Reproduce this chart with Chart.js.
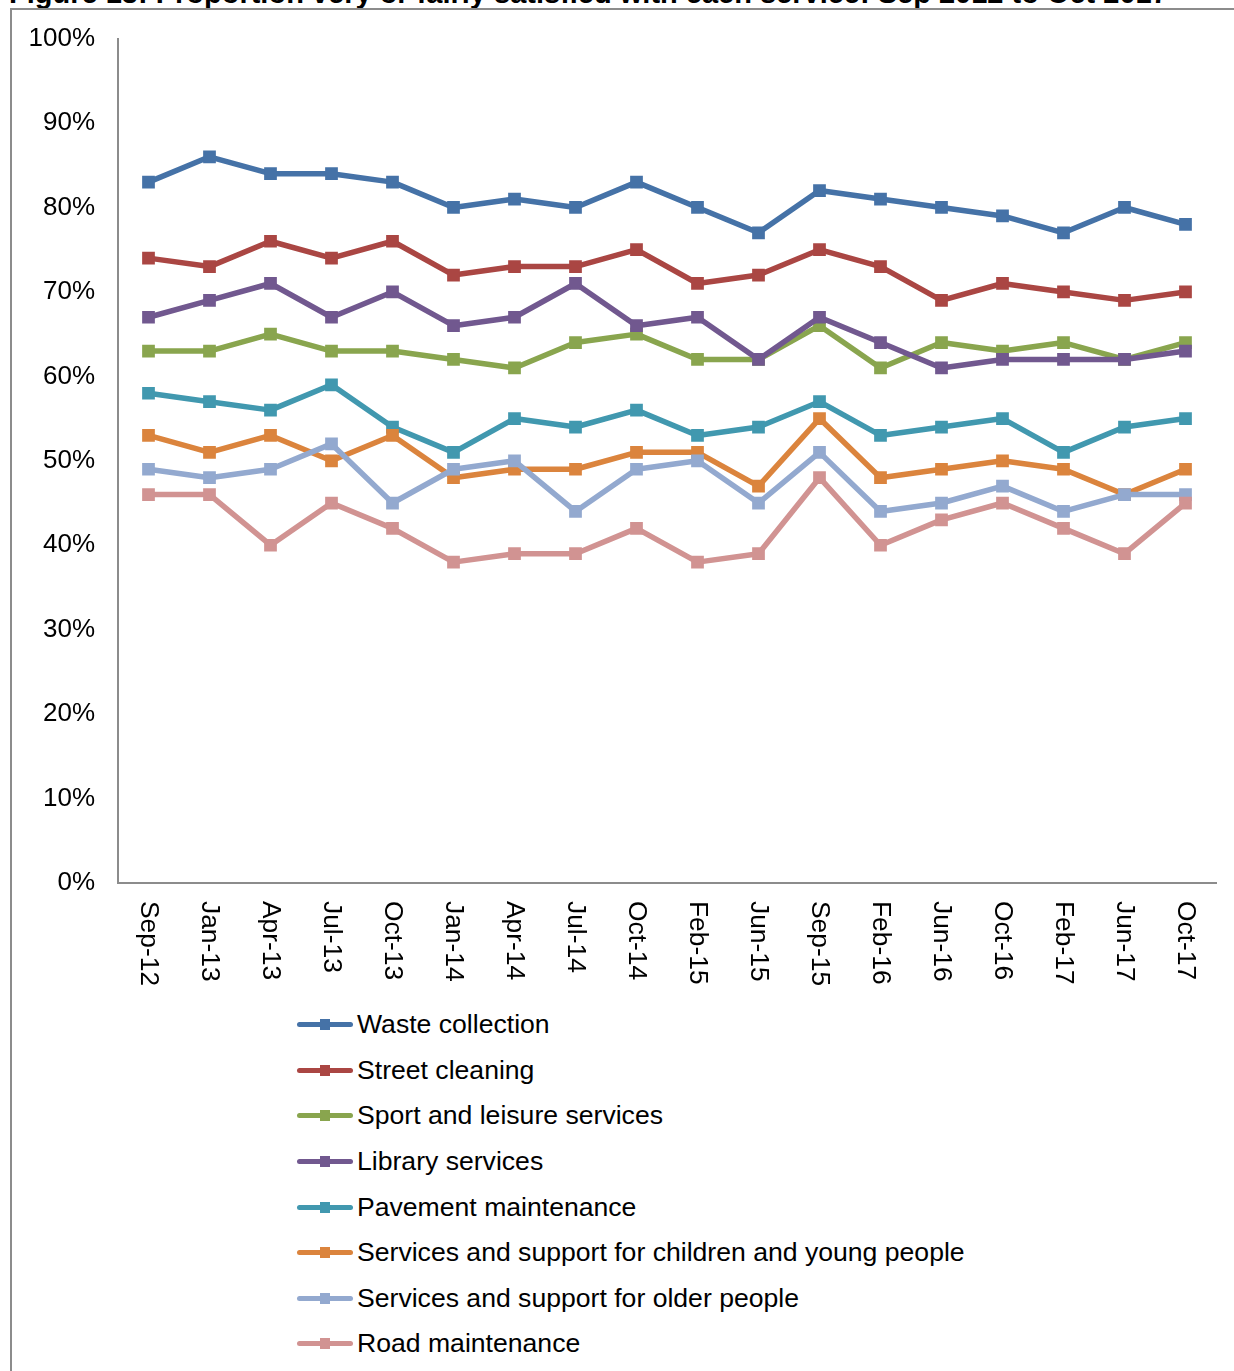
<!DOCTYPE html>
<html>
<head>
<meta charset="utf-8">
<script src="https://cdn.jsdelivr.net/npm/chart.js@4"></script>
<style>
    body { margin: 0; background: #fff; }
    #page { position: relative; width: 1234px; height: 1371px; overflow: hidden; font-family: "Liberation Sans", Arial, sans-serif; }
    #title { position: absolute; left: 9px; top: -21px; font-size: 29px; font-weight: bold; line-height: 29px; white-space: nowrap; color: #000; }
    #frame { position: absolute; left: 10px; top: 8px; width: 2000px; height: 2000px; border-left: 2px solid #8c8c8c; border-top: 2px solid #8c8c8c; }
    #myChart1 { position: absolute; left: 0; top: 0; }
    #legend { position: absolute; left: 297px; top: 1002px; }
    .item { display: flex; align-items: center; height: 45.6px; font-size: 26.6px; color: #000; }
    .mark { position: relative; width: 56px; height: 5px; border-radius: 3px; margin-right: 4px; }
    .mark span { position: absolute; left: 23px; top: -3px; width: 10px; height: 11px; }
</style>
</head>
<body>
<div id="page">
    <div id="title">Figure 13: Proportion very or fairly satisfied with each service: Sep 2012 to Oct 2017</div>
    <div id="frame"></div>
    <canvas id="myChart1" width="1234" height="1000"></canvas>
    <div id="legend"></div>
</div>
<script>
const months = ['Sep-12', 'Jan-13', 'Apr-13', 'Jul-13', 'Oct-13', 'Jan-14', 'Apr-14', 'Jul-14', 'Oct-14',
    'Feb-15', 'Jun-15', 'Sep-15', 'Feb-16', 'Jun-16', 'Oct-16', 'Feb-17', 'Jun-17', 'Oct-17'];

const wasteCollection = [83, 86, 84, 84, 83, 80, 81, 80, 83, 80, 77, 82, 81, 80, 79, 77, 80, 78];
const streetCleaning = [74, 73, 76, 74, 76, 72, 73, 73, 75, 71, 72, 75, 73, 69, 71, 70, 69, 70];
const sportLeisure = [63, 63, 65, 63, 63, 62, 61, 64, 65, 62, 62, 66, 61, 64, 63, 64, 62, 64];
const libraryServices = [67, 69, 71, 67, 70, 66, 67, 71, 66, 67, 62, 67, 64, 61, 62, 62, 62, 63];
const pavementMaintenance = [58, 57, 56, 59, 54, 51, 55, 54, 56, 53, 54, 57, 53, 54, 55, 51, 54, 55];
const childrenYoungPeople = [53, 51, 53, 50, 53, 48, 49, 49, 51, 51, 47, 55, 48, 49, 50, 49, 46, 49];
const olderPeople = [49, 48, 49, 52, 45, 49, 50, 44, 49, 50, 45, 51, 44, 45, 47, 44, 46, 46];
const roadMaintenance = [46, 46, 40, 45, 42, 38, 39, 39, 42, 38, 39, 48, 40, 43, 45, 42, 39, 45];

const seriesNames = ['Waste collection', 'Street cleaning', 'Sport and leisure services', 'Library services',
    'Pavement maintenance', 'Services and support for children and young people',
    'Services and support for older people', 'Road maintenance'];
const seriesValues = [wasteCollection, streetCleaning, sportLeisure, libraryServices,
    pavementMaintenance, childrenYoungPeople, olderPeople, roadMaintenance];
const seriesColors = ['#4572a7', '#aa4643', '#89a54e', '#71588f', '#4198af', '#db843d', '#93a9cf', '#d19392'];

const yTicks = [0, 10, 20, 30, 40, 50, 60, 70, 80, 90, 100];

const FONT = '"Liberation Sans", Arial, sans-serif';

// x labels read top-to-bottom, so they are drawn here instead of by the axis
const monthLabels = {
    id: 'monthLabels',
    afterDraw(chart) {
        const ctx = chart.ctx;
        const xScale = chart.scales.x;
        ctx.save();
        ctx.font = '26.4px ' + FONT;
        ctx.fillStyle = '#000';
        ctx.textAlign = 'left';
        ctx.textBaseline = 'middle';
        months.forEach((m, i) => {
            ctx.save();
            ctx.translate(xScale.getPixelForTick(i), xScale.top + 18);
            ctx.rotate(Math.PI / 2);
            ctx.fillText(m, 0, 0);
            ctx.restore();
        });
        ctx.restore();
    }
};

document.addEventListener('DOMContentLoaded', () => {
    new Chart("myChart1", {
        type: "line",
        data: {
            labels: months,
            datasets: seriesNames.map((name, i) => ({
                label: name,
                data: seriesValues[i],
                fill: false,
                tension: 0,
                borderColor: seriesColors[i],
                backgroundColor: seriesColors[i],
                pointBackgroundColor: seriesColors[i],
                pointBorderColor: seriesColors[i],
                borderWidth: 5.5,
                borderJoinStyle: 'round',
                pointStyle: 'rect',
                pointRadius: 9,
                pointBorderWidth: 0,
                order: seriesNames.length - i
            }))
        },
        options: {
            responsive: false,
            animation: false,
            layout: {
                padding: { top: 38, right: 18, left: 0, bottom: 0 }
            },
            plugins: {
                legend: { display: false },
                tooltip: { enabled: false }
            },
            scales: {
                x: {
                    offset: true,
                    grid: { display: false, drawTicks: false },
                    border: { display: true, color: '#8c8c8c', width: 2 },
                    ticks: { display: false },
                    afterFit: (scale) => { scale.height = 117; }
                },
                y: {
                    min: 0,
                    max: 100,
                    afterBuildTicks: (scale) => { scale.ticks = yTicks.map(v => ({ value: v })); },
                    grid: { display: false, drawTicks: false },
                    border: { display: true, color: '#8c8c8c', width: 2 },
                    ticks: {
                        color: '#000',
                        padding: 23,
                        font: { family: FONT, size: 26 },
                        callback: (v) => v + '%'
                    },
                    afterFit: (scale) => { scale.width = 118; }
                }
            }
        },
        plugins: [monthLabels]
    });

    const legend = document.getElementById('legend');
    seriesNames.forEach((name, i) => {
        const item = document.createElement('div');
        item.className = 'item';
        item.innerHTML = '<div class="mark" style="background:' + seriesColors[i] + '"><span style="background:' +
            seriesColors[i] + '"></span></div><div>' + name + '</div>';
        legend.appendChild(item);
    });
});
</script>
</body>
</html>
